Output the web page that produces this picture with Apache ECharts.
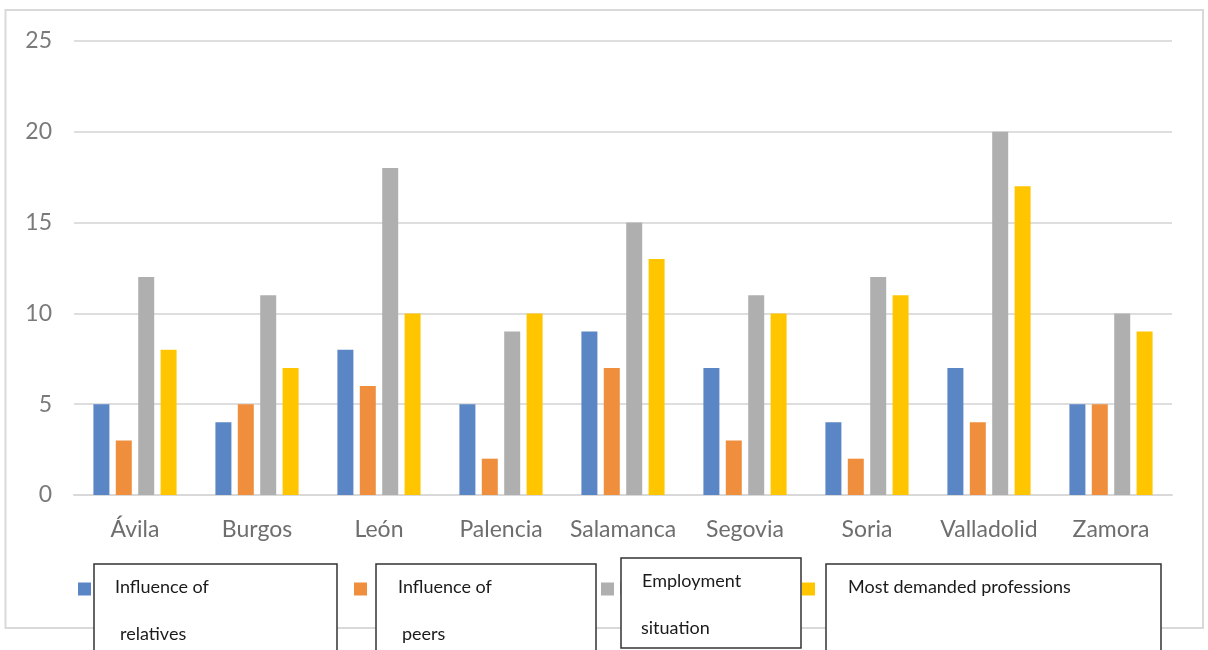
<!DOCTYPE html>
<html>
<head>
<meta charset="utf-8">
<script src="https://cdn.jsdelivr.net/npm/echarts@6/dist/echarts.min.js"></script>
<style>
  html, body { margin: 0; padding: 0; background: #ffffff; }
  #chart { width: 1208px; height: 650px; }
</style>
</head>
<body>
<div id="chart"></div>
<script>
// Provinces of Castilla y León
const provinces = ['Ávila', 'Burgos', 'León', 'Palencia', 'Salamanca', 'Segovia', 'Soria', 'Valladolid', 'Zamora'];

// Number of responses per factor
const relatives    = [5, 4, 8, 5, 9, 7, 4, 7, 5];
const peers        = [3, 5, 6, 2, 7, 3, 2, 4, 5];
const employment   = [12, 11, 18, 9, 15, 11, 12, 20, 10];
const professions  = [8, 7, 10, 10, 13, 10, 11, 17, 9];

const seriesNames = ['Influence of relatives', 'Influence of peers', 'Employment situation', 'Most demanded professions'];
const yTicks = { min: 0, max: 25, step: 5 };

const colors = ['#5a86c6', '#ef8e3d', '#afafaf', '#ffc600'];
const labelFont = 'Lato, "Noto Sans", sans-serif';

const chart = echarts.init(document.getElementById('chart'), null, { renderer: 'canvas' });

const seriesData = [relatives, peers, employment, professions];
const legendX = [78, 354, 601, 802];
const legendTextPad = [0, 10, 0, 10];

// One legend per series so each marker sits at its own spot
const legends = seriesNames.map((name, i) => ({
  data: [name],
  left: legendX[i],
  top: 580,
  padding: 0,
  icon: 'rect',
  itemWidth: 13,
  itemHeight: 13,
  itemGap: 4,
  selectedMode: false,
  textStyle: {
    fontFamily: labelFont, fontSize: 18, color: '#595959',
    padding: [0, 0, 0, legendTextPad[i]]
  }
}));

// Text boxes laid over the legend labels
function textBox(x, y, w, h, lines) {
  const children = [{
    type: 'rect',
    z: 100,
    zlevel: 1,
    shape: { x: x, y: y, width: w, height: h },
    style: { fill: '#ffffff', stroke: '#333333', lineWidth: 1.5 }
  }];
  lines.forEach(l => {
    children.push({
      type: 'text',
      z: 101,
      zlevel: 1,
      style: {
        x: l.x, y: l.y, text: l.text,
        font: '18px ' + labelFont,
        fill: '#1a1a1a',
        textVerticalAlign: 'middle'
      }
    });
  });
  return children;
}

const option = {
  backgroundColor: '#ffffff',
  color: colors,
  animation: false,
  grid: { left: 74, right: 36, top: 41, bottom: 155, containLabel: false },
  legend: legends,
  xAxis: {
    type: 'category',
    data: provinces,
    axisTick: { show: false },
    axisLine: { lineStyle: { color: '#d9d9d9', width: 2 } },
    axisLabel: { interval: 0, margin: 23, fontFamily: labelFont, fontSize: 23, color: '#6e6e6e' }
  },
  yAxis: {
    type: 'value',
    min: yTicks.min,
    max: yTicks.max,
    interval: yTicks.step,
    axisLine: { show: false },
    axisTick: { show: false },
    splitLine: { lineStyle: { color: '#dedede', width: 2 } },
    axisLabel: { margin: 22, fontFamily: labelFont, fontSize: 23, color: '#7a7a7a' }
  },
  series: seriesNames.map((name, i) => ({
    name: name,
    type: 'bar',
    data: seriesData[i],
    barWidth: 16,
    barGap: '40%',
    itemStyle: { color: colors[i] }
  })),
  graphic: [
    {
      type: 'rect', z: 0, silent: true,
      shape: { x: 5.5, y: 10, width: 1197.5, height: 618 },
      style: { fill: null, stroke: '#d9d9d9', lineWidth: 2 }
    }
  ].concat(
    textBox(94, 564, 243, 100, [
      { x: 115, y: 587, text: 'Influence of' },
      { x: 120, y: 634, text: 'relatives' }
    ]),
    textBox(376, 564, 220, 100, [
      { x: 398, y: 587, text: 'Influence of' },
      { x: 402, y: 634, text: 'peers' }
    ]),
    textBox(621, 558, 180, 90, [
      { x: 642, y: 581, text: 'Employment' },
      { x: 641, y: 628, text: 'situation' }
    ]),
    textBox(826, 564, 335, 100, [
      { x: 848, y: 587, text: 'Most demanded professions' }
    ])
  )
};

chart.setOption(option);
</script>
</body>
</html>
